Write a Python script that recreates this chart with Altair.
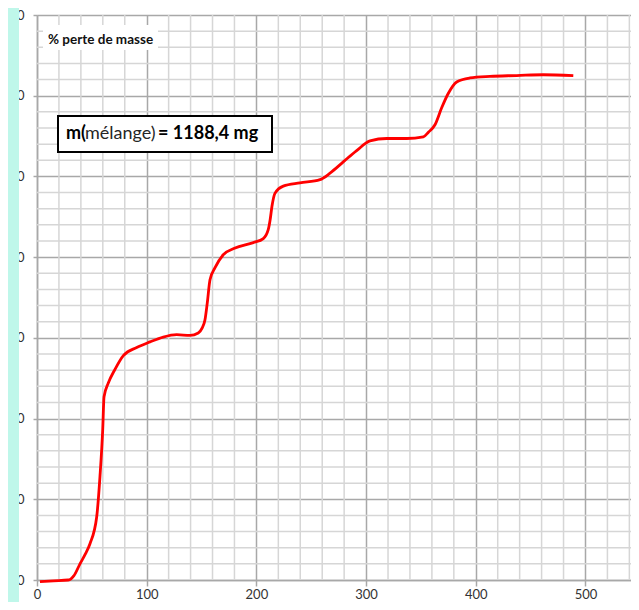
import altair as alt
import pandas as pd

# ---- data ----
temperature = [2.7, 15.0, 28.5, 31.0, 33.5, 39.2, 44.0, 48.3, 54.4, 57.4, 59.9, 61.1, 65.0, 71.1,
               78.7, 90.9, 103.0, 115.1, 127.3, 139.5, 147.0, 150.5, 153.1, 155.2, 157.7, 162.3,
               169.8, 180.0, 197.2, 206.3, 210.8, 212.5, 214.2, 216.9, 224.5, 239.7, 258.0, 267.1,
               279.2, 291.4, 303.6, 318.8, 337.0, 352.2, 357.0, 362.8, 368.9, 375.0, 382.6, 394.7,
               412.9, 437.3, 461.5, 488.9]
perte = [-0.2, -0.1, 0.0, 0.15, 0.5, 2.0, 3.2, 4.5, 7.8, 12.8, 18.6, 22.7, 24.4, 26.1,
         27.8, 28.8, 29.5, 30.1, 30.4, 30.3, 30.6, 31.2, 32.2, 34.3, 37.2, 38.7,
         40.3, 41.1, 41.8, 42.3, 43.4, 44.6, 46.3, 47.9, 48.8, 49.2, 49.6, 50.4,
         51.8, 53.2, 54.4, 54.7, 54.7, 54.9, 55.5, 56.4, 58.5, 60.3, 61.7, 62.2,
         62.4, 62.5, 62.6, 62.5]

x_major = [0, 100, 200, 300, 400, 500]
x_minor = [20, 40, 60, 80, 120, 140, 160, 180, 220, 240, 260, 280, 320, 340, 360, 380,
           420, 440, 460, 480, 520, 540]
y_major = [0, 10, 20, 30, 40, 50, 60, 70]
y_minor = [2, 4, 6, 8, 12, 14, 16, 18, 22, 24, 26, 28, 32, 34, 36, 38, 42, 44, 46, 48,
           52, 54, 56, 58, 62, 64, 66, 68]

axis_title = "% perte de masse"
annot_a = "m("
annot_b = "mélange)"
annot_c = "= 1188,4 mg"

# ---- styles ----
MAJOR = "#a8a8a8"
MINOR = "#d6d6d6"
FONT = "Lato"

xs = alt.Scale(domain=[0, 541.5], nice=False, zero=False)
ys = alt.Scale(domain=[0, 70], nice=False, zero=False)

df = pd.DataFrame({"t": temperature, "p": perte})
one = pd.DataFrame({"a": [0]})

x_axis = alt.Axis(values=x_major, grid=True, gridColor=MAJOR, gridWidth=1.5,
                  domainColor=MAJOR, domainWidth=1.5, tickColor=MAJOR, tickWidth=1.5,
                  tickSize=6, labelFont=FONT, labelFontSize=13, labelColor="#333333",
                  labelPadding=2, labelFlush=False, labelOverlap=False, title=None,
                  zindex=0, format="d")
y_axis = alt.Axis(values=y_major, grid=True, gridColor=MAJOR, gridWidth=1.5,
                  domainColor=MAJOR, domainWidth=1.5, tickColor=MAJOR, tickWidth=1.5,
                  tickSize=4, labelFont=FONT, labelFontSize=13, labelColor="#333333",
                  labelPadding=9, labelFlush=False, labelOverlap=False, title=None,
                  zindex=0, format="d")

xminor = alt.Chart(pd.DataFrame({"t": x_minor})).mark_rule(
    color=MINOR, strokeWidth=1.5).encode(x=alt.X("t:Q", scale=xs, axis=x_axis))
yminor = alt.Chart(pd.DataFrame({"p": y_minor})).mark_rule(
    color=MINOR, strokeWidth=1.5).encode(y=alt.Y("p:Q", scale=ys, axis=y_axis))

strip = alt.Chart(one).mark_rect(color="#bff7ea", clip=False).encode(
    x=alt.value(-29), x2=alt.value(-18), y=alt.value(-7), y2=alt.value(587))

title_box = alt.Chart(one).mark_rect(color="white").encode(
    x=alt.value(6), x2=alt.value(121), y=alt.value(10), y2=alt.value(35))
title_txt = alt.Chart(one).mark_text(
    text=axis_title, font=FONT, fontWeight="bold", fontSize=13.5, align="left",
    baseline="middle", color="#111111").encode(x=alt.value(11), y=alt.value(25))

line = alt.Chart(df).mark_line(color="#ff0000", strokeWidth=2.8, interpolate="monotone").encode(
    x=alt.X("t:Q", scale=xs, axis=x_axis),
    y=alt.Y("p:Q", scale=ys, axis=y_axis),
)

ann_box = alt.Chart(one).mark_rect(fill="white", stroke="black", strokeWidth=2).encode(
    x=alt.value(21), x2=alt.value(235), y=alt.value(101), y2=alt.value(137))
ann_a = alt.Chart(one).mark_text(text=annot_a, font=FONT, fontWeight="bold", fontSize=18,
                                 align="left", baseline="middle", color="black").encode(
    x=alt.value(29), y=alt.value(119))
ann_b = alt.Chart(one).mark_text(text=annot_b, font=FONT, fontWeight="normal", fontSize=18,
                                 align="left", baseline="middle", color="#262626").encode(
    x=alt.value(48), y=alt.value(119))
ann_c = alt.Chart(one).mark_text(text=annot_c, font=FONT, fontWeight="bold", fontSize=18,
                                 align="left", baseline="middle", color="black").encode(
    x=alt.value(121), y=alt.value(119))

chart = alt.layer(xminor, yminor, strip, title_box, title_txt, line,
                  ann_box, ann_a, ann_b, ann_c).properties(
    width=594, height=565,
    autosize=alt.AutoSizeParams(type="none"),
    padding={"left": 29, "top": 7, "right": 0, "bottom": 22},
    background="white",
).configure_view(stroke=None)

chart.save("out.html", embed_options={"renderer": "svg", "actions": False})
